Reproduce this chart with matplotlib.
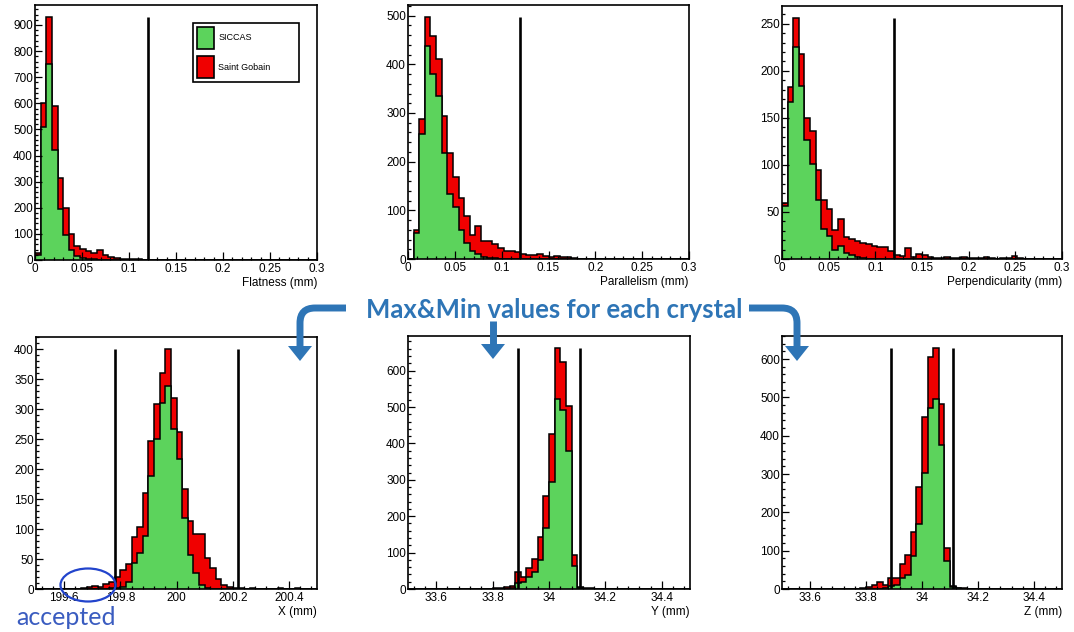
import numpy as np
import matplotlib
matplotlib.use("Agg")
import matplotlib.pyplot as plt
from matplotlib.patches import Patch, Ellipse, PathPatch, Polygon
from matplotlib.path import Path
from matplotlib.ticker import MultipleLocator, FuncFormatter

plt.rcParams["font.family"] = ["Liberation Sans", "DejaVu Sans"]

W, H = 1074, 632
GREEN = "#5cd35c"
RED = "#f00000"
BLUE = "#2e75b6"
N_BINS = 50

# counts per bin (50 bins over the axis range), SICCAS and Saint Gobain stacked
flat_siccas = [20, 510, 750, 420, 195, 95, 38, 14, 6, 4, 2, 1, 1]
flat_sg = [8, 90, 180, 170, 120, 105, 62, 38, 36, 31, 23, 37, 19, 12, 8, 5, 4, 3, 2, 1, 1]

para_siccas = [0, 54, 256, 438, 380, 334, 218, 133, 107, 60, 33, 16, 10, 5, 3, 2, 1]
para_sg = [0, 6, 31, 59, 79, 77, 76, 84, 62, 66, 55, 34, 57, 31, 35, 28, 22, 16, 16, 14,
           11, 8, 8, 10, 6, 5, 6, 4, 5, 2, 1, 1]

perp_siccas = [56, 167, 225, 184, 126, 101, 63, 32, 24, 10, 14, 6, 4, 2, 1]
perp_sg = [4, 16, 31, 34, 24, 35, 32, 31, 29, 21, 29, 17, 17, 17, 16, 16, 14, 13, 13, 8,
           4, 3, 12, 2, 5, 4, 2, 1, 1, 2, 1, 1, 2, 1, 1, 1, 2, 1, 0, 1, 1, 3, 1]

x_siccas = [0] * 13 + [1, 2, 4, 11, 44, 60, 88, 188, 250, 310, 339, 267, 216, 118, 57, 27, 7, 2]
x_sg = [0] * 8 + [2, 3, 5, 4, 8, 11, 18, 28, 31, 43, 44, 72, 58, 59, 50, 61, 51, 45, 48, 56,
                  64, 84, 50, 35, 17, 7, 4, 2, 1, 0, 1, 0, 0, 0, 0, 1, 0, 0, 1]

y_siccas = [0] * 16 + [1, 1, 2, 16, 18, 33, 48, 80, 167, 294, 522, 493, 378, 62, 3, 1]
y_sg = [0] * 15 + [2, 3, 5, 6, 30, 15, 26, 34, 63, 88, 132, 140, 132, 124, 32, 2, 2, 2, 1]

z_siccas = [0] * 17 + [1, 2, 7, 11, 29, 36, 85, 170, 303, 473, 497, 375, 72, 5, 2]
z_sg = [0] * 14 + [2, 5, 10, 16, 9, 22, 18, 35, 54, 64, 97, 147, 133, 132, 107, 35, 3, 1, 2, 1]

labels = ["Flatness (mm)", "Parallelism (mm)", "Perpendicularity (mm)",
          "X (mm)", "Y (mm)", "Z (mm)"]
ranges = [(0, 0.3), (0, 0.3), (0, 0.3), (199.5, 200.5), (33.5, 34.5), (33.5, 34.5)]
cuts = [[0.12], [0.12], [0.12], [199.78, 200.22], [33.89, 34.11], [33.89, 34.11]]
series = [(flat_siccas, flat_sg), (para_siccas, para_sg), (perp_siccas, perp_sg),
          (x_siccas, x_sg), (y_siccas, y_sg), (z_siccas, z_sg)]

# frame boxes in pixels (left, top, right, bottom)
boxes = [(35, 5, 317, 260), (408, 5, 689, 259), (782, 6, 1062, 259),
         (36, 337, 317, 589), (408, 336, 690, 589), (782, 336, 1062, 589)]
x_major = [0.05, 0.05, 0.05, 0.2, 0.2, 0.2]
y_major = [100, 100, 50, 50, 100, 100]


def pad(v):
    return np.array(v + [0] * (N_BINS - len(v)), dtype=float)


def px(x, y):
    return x / W, 1 - y / H


fig = plt.figure(figsize=(W / 100, H / 100), dpi=100)
fmt = FuncFormatter(lambda v, p: f"{v:g}")

for i in range(6):
    l, t, r, b = boxes[i]
    ax = fig.add_axes([l / W, 1 - b / H, (r - l) / W, (b - t) / H])
    siccas = pad(series[i][0])
    total = siccas + pad(series[i][1])
    edges = np.linspace(ranges[i][0], ranges[i][1], N_BINS + 1)
    ax.stairs(total, edges, fill=True, facecolor=RED, edgecolor="black", linewidth=1.1)
    ax.stairs(siccas, edges, fill=True, facecolor=GREEN, edgecolor="black", linewidth=1.1)
    ax.vlines(cuts[i], 0, total.max(), colors="black", linewidth=1.9)
    ax.set_xlim(*ranges[i])
    ax.set_ylim(0, 1.05 * total.max())
    ax.xaxis.set_major_locator(MultipleLocator(x_major[i]))
    ax.xaxis.set_minor_locator(MultipleLocator(x_major[i] / 5))
    ax.yaxis.set_major_locator(MultipleLocator(y_major[i]))
    ax.yaxis.set_minor_locator(MultipleLocator(y_major[i] / 5))
    ax.xaxis.set_major_formatter(fmt)
    ax.yaxis.set_major_formatter(fmt)
    ax.tick_params(which="both", direction="in", top=False, right=False,
                   labelsize=8.5, width=0.9, colors="black")
    ax.tick_params(axis="x", which="major", length=5.5, pad=2.5)
    ax.tick_params(axis="y", which="major", length=5, pad=1.5)
    ax.tick_params(which="minor", length=2.5)
    for s in ax.spines.values():
        s.set_linewidth(1.2)
    ax.set_xlabel(labels[i], loc="right", fontsize=8.5, labelpad=1)

    if i == 0:
        handles = [Patch(facecolor=GREEN, edgecolor="black", linewidth=1.2, label="SICCAS"),
                   Patch(facecolor=RED, edgecolor="black", linewidth=1.2, label="Saint Gobain")]
        leg = ax.legend(handles=handles, loc="upper left", bbox_to_anchor=(0.56, 0.678, 0.376, 0.251),
                        mode="expand", fancybox=False, edgecolor="black", framealpha=1,
                        fontsize=6.5, handlelength=1.9, handleheight=3.4, labelspacing=0.8,
                        borderpad=0.4, handletextpad=0.5, borderaxespad=0)
        leg.get_frame().set_linewidth(1.2)

fig.text(*px(554, 310), "Max&Min values for each crystal", ha="center", va="center",
         fontsize=18.5, fontweight="bold", color=BLUE, family=["Lato", "DejaVu Sans"])
fig.text(*px(16, 625), "accepted", ha="left", va="baseline", fontsize=18,
         color="#3a5cc0", family=["Lato", "DejaVu Sans"])

fig.add_artist(Ellipse(px(88, 585), 55 / W, 33 / H, fill=False, edgecolor="#2244cc",
                       linewidth=1.6, transform=fig.transFigure))


def arrow(verts, codes, tip):
    pts = [px(*v) for v in verts]
    fig.add_artist(PathPatch(Path(pts, codes), fill=False, edgecolor=BLUE, linewidth=5,
                             capstyle="butt", transform=fig.transFigure))
    tx, ty = tip
    head = [px(tx - 12, ty - 15), px(tx + 12, ty - 15), px(tx, ty)]
    fig.add_artist(Polygon(head, closed=True, facecolor=BLUE, edgecolor="none",
                           transform=fig.transFigure))


bend = [Path.MOVETO, Path.LINETO, Path.CURVE3, Path.CURVE3, Path.LINETO]
arrow([(346, 308), (315, 308), (300, 308), (300, 323), (300, 347)], bend, (300, 361))
arrow([(493, 321), (493, 346)], [Path.MOVETO, Path.LINETO], (493, 359))
arrow([(749, 308), (782, 308), (797, 308), (797, 323), (797, 347)], bend, (797, 361))

fig.savefig("out.png", dpi=100)
